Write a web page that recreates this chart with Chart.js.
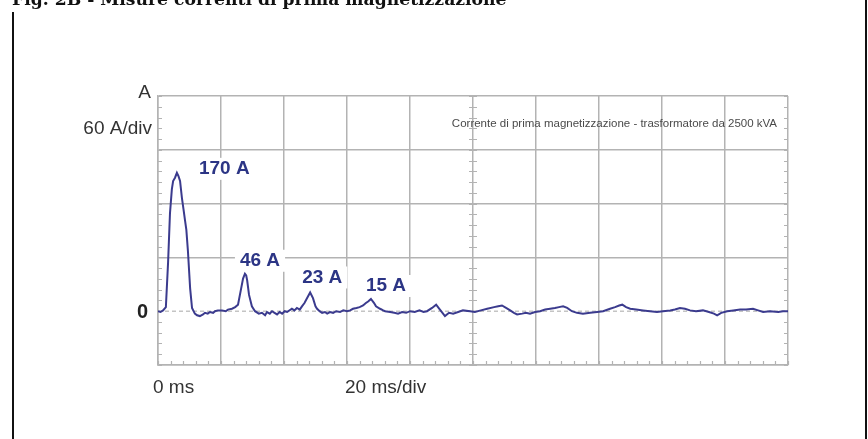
<!DOCTYPE html>
<html>
<head>
<meta charset="utf-8">
<script src="https://cdn.jsdelivr.net/npm/chart.js@4/dist/chart.umd.min.js"></script>
<style>
  html, body { margin: 0; padding: 0; background: #ffffff; }
  #c { display: block; }
</style>
</head>
<body>
<canvas id="c" width="868" height="439"></canvas>
<script>
// Inrush current trace: time (ms) and current (A)
const timeMs = [
  0, 0.8, 1.6, 2.5, 3.2, 3.8, 4.4, 4.8, 5.4, 6.0, 6.5, 7.0, 7.6, 8.1, 8.6, 9.0, 9.5, 10.2, 10.8,
  11.7, 12.4, 13.3, 14.3, 14.9, 15.8, 16.5, 17.5, 18.1, 19.0, 20.3, 21.5, 22.2, 23.5, 24.5, 25.4,
  26.4, 27.0, 27.6, 28.0, 28.3, 28.9, 29.8, 30.8, 32.0, 33.0, 34.0, 34.6, 35.5, 36.2, 37.0, 37.8,
  38.6, 39.4, 40.2, 41.0, 42.5, 43.3, 44.1, 45.0, 45.7, 46.5, 47.6, 48.3, 49.2, 50.0, 50.5, 51.3,
  52.1, 53.0, 53.7, 54.6, 55.6, 56.6, 57.8, 58.8, 60.0, 61.0, 61.9, 63.0, 64.0, 65.1, 66.0, 66.7,
  67.6, 68.6, 69.2, 70.5, 71.5, 72.1, 73.7, 75.0, 76.2, 77.5, 78.8, 80.0, 81.5, 83.0, 84.3, 85.4,
  87.0, 88.3, 89.5, 91.1, 92.4, 93.7, 95.3, 96.8, 99.1, 100.6, 102.5, 104.5, 106.7, 108.0, 109.2,
  110.5, 111.8, 113.0, 114.0, 115.6, 116.8, 118.1, 119.7, 121.3, 122.9, 124.5, 126.0, 127.3, 128.6,
  129.9, 131.4, 133.0, 134.9, 137.2, 139.4, 141.3, 143.5, 145.1, 146.4, 147.4, 148.6, 149.9, 151.8,
  154.0, 156.2, 158.4, 160.3, 162.6, 164.1, 165.7, 167.3, 168.9, 170.8, 173.0, 174.9, 176.5, 177.5,
  178.8, 180.7, 182.6, 184.8, 186.7, 188.9, 190.5, 192.1, 194.3, 196.9, 198.4, 200
];
const currentA = [
  0, -1, 1, 5, 60, 120, 150, 160, 164, 170, 166, 160, 139, 125, 111, 100, 74, 28, 4,
  -3, -5, -6, -4, -2, -3, -1, -2, 0, 1, 1, 0, 2, 3, 5, 8,
  28, 40, 46, 44, 38, 20, 6, 0, -3, -2, -5, -1, -3, 0, -2, -4,
  -1, -3, 0, -1, 3, 1, 4, 2, 6, 10, 18, 23, 16, 6, 3, 0,
  -2, -1, -3, -1, -2, 0, -1, 1, 0, 1, 3, 4, 5, 7, 10, 12,
  15, 10, 6, 3, 1, 0, -1, -2, -3, -1, -2, 0, -1, 1, -1, 0,
  4, 8, 2, -6, -2, -3, -1, 1, 0, -1, 1, 3, 5, 6, 7,
  4, 1, -2, -4, -3, -2, -3, -1, 0, 2, 3, 4, 5, 6,
  4, 0, -2, -3, -2, -1, 0, 3, 5, 7, 8, 5, 3, 2,
  1, 0, -1, 0, 1, 2, 4, 3, 1, 0, 1, -1, -3, -5,
  -2, 0, 1, 2, 2, 3, 1, -1, 0, -1, 0, 0
];

// Peak annotations
const peakTimes = [6.0, 27.6, 48.3, 67.6];
const peakValues = [170, 46, 23, 15];
const peakLabels = ['170 A', '46 A', '23 A', '15 A'];

// Axis captions
const titleText = 'Fig. 2B - Misure correnti di prima magnetizzazione';
const traceCaption = 'Corrente di prima magnetizzazione - trasformatore da 2500 kVA';
const yUnitLabel = 'A';
const yScaleLabel = '60 A/div';
const yZeroLabel = '0';
const xZeroLabel = '0 ms';
const xScaleLabel = '20 ms/div';

const GRID = '#b3b3b3';
const TRACE = '#3b3b8e';
const LABEL_BLUE = '#2c3585';

const Y_MIN = -66.1, Y_MAX = 264.4, Y_DIVS = 5;

const decor = {
  id: 'scopeDecor',
  beforeDatasetsDraw(chart) {
    const { ctx, chartArea: a, scales: { x, y } } = chart;
    ctx.save();
    // dashed zero line
    const y0 = y.getPixelForValue(0);
    ctx.strokeStyle = '#c4c4c4';
    ctx.lineWidth = 1.5;
    ctx.setLineDash([4, 3]);
    ctx.beginPath(); ctx.moveTo(a.left, y0); ctx.lineTo(a.right, y0); ctx.stroke();
    ctx.setLineDash([]);

    // minor ticks
    ctx.strokeStyle = GRID;
    ctx.lineWidth = 1.2;
    const yStep = (Y_MAX - Y_MIN) / Y_DIVS / 5;
    const xc = x.getPixelForValue(100);
    ctx.beginPath();
    for (let v = Y_MIN; v <= Y_MAX + 0.01; v += yStep) {
      const py = Math.round(y.getPixelForValue(v)) + 0.5;
      ctx.moveTo(a.left, py); ctx.lineTo(a.left + 4, py);
      ctx.moveTo(a.right, py); ctx.lineTo(a.right - 4, py);
      ctx.moveTo(xc - 4, py); ctx.lineTo(xc + 4, py);
    }
    for (let t = 0; t <= 200; t += 4) {
      const px = Math.round(x.getPixelForValue(t)) + 0.5;
      ctx.moveTo(px, a.bottom); ctx.lineTo(px, a.bottom - 4);
    }
    ctx.stroke();

    // peak labels with white backing
    ctx.font = 'bold 19px "Liberation Sans", Arial, sans-serif';
    ctx.textBaseline = 'middle';
    ctx.textAlign = 'left';
    const offs = [[22, -4], [-5, -13], [-8, -15], [-5, -13]];
    peakLabels.forEach((txt, i) => {
      const px = x.getPixelForValue(peakTimes[i]);
      const py = y.getPixelForValue(peakValues[i]);
      const w = ctx.measureText(txt).width;
      const lx = px + offs[i][0], ly = py + offs[i][1];
      ctx.fillStyle = '#ffffff';
      ctx.fillRect(lx - 5, ly - 11, w + 10, 22);
      ctx.fillStyle = LABEL_BLUE;
      ctx.fillText(txt, lx, ly);
    });

    // caption inside the plot
    ctx.font = '11.5px "Liberation Sans", Arial, sans-serif';
    ctx.fillStyle = '#4a4a4a';
    ctx.textAlign = 'right';
    ctx.fillText(traceCaption, a.right - 11, a.top + 28);
    ctx.restore();
  },
  afterDraw(chart) {
    const { ctx, chartArea: a, scales: { x, y } } = chart;
    ctx.save();
    // outer frame
    ctx.strokeStyle = '#111111';
    ctx.lineWidth = 2;
    ctx.beginPath();
    ctx.moveTo(13, 12); ctx.lineTo(13, 439);
    ctx.moveTo(866, 0); ctx.lineTo(866, 439);
    ctx.stroke();

    // figure title
    let fs = 16;
    ctx.font = 'bold ' + fs + 'px "DejaVu Serif", serif';
    fs = fs * 495 / ctx.measureText(titleText).width;
    ctx.font = 'bold ' + fs.toFixed(2) + 'px "DejaVu Serif", serif';
    ctx.fillStyle = '#111111';
    ctx.textAlign = 'left';
    ctx.textBaseline = 'alphabetic';
    ctx.fillText(titleText, 12, 5);

    // axis captions
    ctx.fillStyle = '#333333';
    ctx.textBaseline = 'middle';
    ctx.font = '19px "Liberation Sans", Arial, sans-serif';
    ctx.textAlign = 'right';
    ctx.fillText(yUnitLabel, a.left - 7, a.top - 3);
    ctx.fillText(yScaleLabel, a.left - 6, a.top + 33);
    ctx.font = 'bold 20px "Liberation Sans", Arial, sans-serif';
    ctx.fillStyle = '#222222';
    ctx.fillText(yZeroLabel, a.left - 10, y.getPixelForValue(0) + 1);
    ctx.font = '19px "Liberation Sans", Arial, sans-serif';
    ctx.fillStyle = '#333333';
    ctx.textAlign = 'left';
    ctx.fillText(xZeroLabel, x.getPixelForValue(0) - 5, a.bottom + 23);
    ctx.fillText(xScaleLabel, x.getPixelForValue(60) - 2, a.bottom + 23);
    ctx.restore();
  }
};

new Chart(document.getElementById('c'), {
  type: 'line',
  data: {
    datasets: [{
      data: timeMs.map((t, i) => ({ x: t, y: currentA[i] })),
      borderColor: TRACE,
      borderWidth: 2,
      pointRadius: 0,
      tension: 0,
      fill: false
    }]
  },
  options: {
    responsive: false,
    animation: false,
    devicePixelRatio: 1,
    layout: { padding: { left: 158, top: 96, right: 80, bottom: 74 } },
    plugins: { legend: { display: false }, tooltip: { enabled: false } },
    scales: {
      x: {
        type: 'linear', min: 0, max: 200,
        ticks: { display: false, stepSize: 20 },
        grid: { color: GRID, lineWidth: 1.5, drawTicks: false },
        border: { color: GRID, width: 1.5 }
      },
      y: {
        type: 'linear', min: Y_MIN, max: Y_MAX,
        afterBuildTicks(scale) {
          const step = (Y_MAX - Y_MIN) / Y_DIVS;
          scale.ticks = Array.from({ length: Y_DIVS + 1 }, (_, k) => ({ value: +(Y_MIN + k * step).toFixed(4) }));
          scale.ticks.splice(1, 1, { value: 0 });
        },
        ticks: { display: false },
        grid: {
          color: c => (c.tick && c.tick.value === 0 ? 'rgba(0,0,0,0)' : GRID),
          lineWidth: 1.5, drawTicks: false
        },
        border: { color: GRID, width: 1.5 }
      }
    }
  },
  plugins: [decor]
});
</script>
</body>
</html>
